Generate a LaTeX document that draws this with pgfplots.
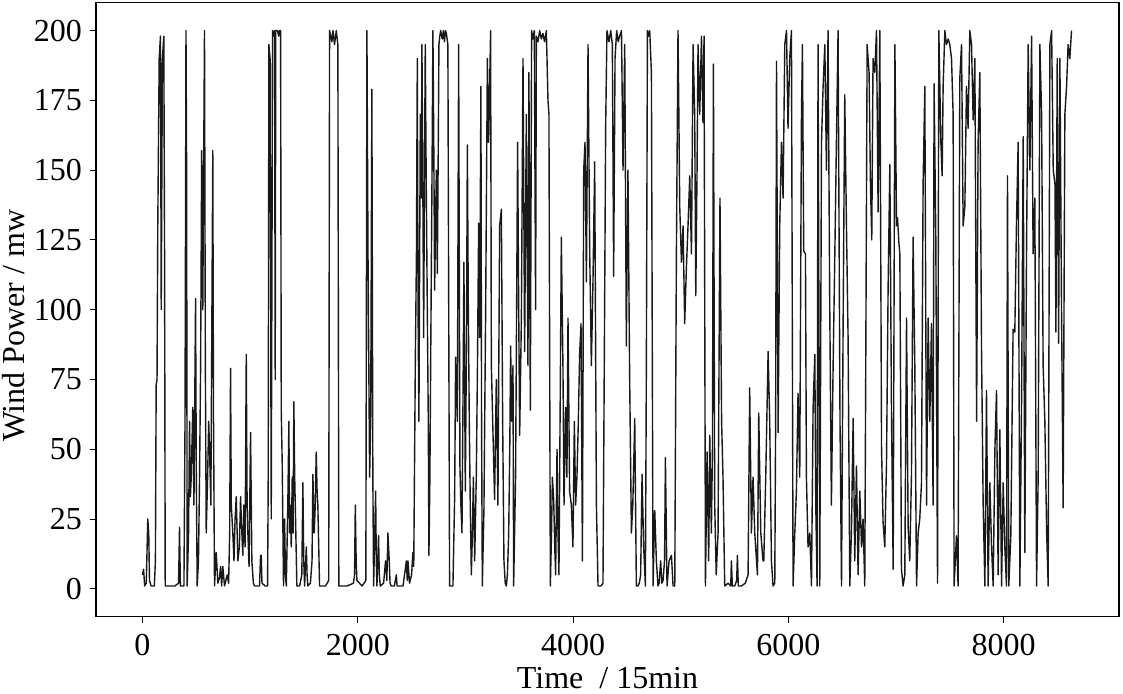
\documentclass[border=0pt]{standalone}
\usepackage{fontspec}
\setmainfont{Liberation Serif}
\usepackage{pgfplots}
\pgfplotsset{compat=1.18}

\begin{document}
\fontsize{16pt}{19pt}\selectfont
\begin{tikzpicture}
\path[use as bounding box] (-48pt,-38.65pt) rectangle (513.5pt,308.35pt);
\begin{axis}[
    at={(0,0)}, anchor=south west,
    scale only axis,
    width=511.5pt, height=307pt,
    xmin=-432, xmax=9072,
    ymin=-10, ymax=210,
    xtick={0,2000,4000,6000,8000},
    ytick={0,25,...,200},
    tick align=outside,
    tick pos=left,
    major tick length=3pt,
    every tick/.style={black, line width=0.5pt},
    axis line style={line width=0.8pt},
    tick label style={font=\fontsize{16pt}{19pt}\selectfont},
    yticklabel style={xshift=1.5pt},
    /pgf/number format/assume math mode=true,
    /pgf/number format/set thousands separator={},
    xlabel={Time\ \ / 15min},
    ylabel={Wind Power / mw},
    label style={font=\fontsize{16pt}{19pt}\selectfont},
    xlabel style={at={(axis description cs:0.5,0)}, anchor=center, yshift=-30.5pt},
    ylabel style={at={(axis description cs:0,0.5)}, anchor=center, yshift=41pt, xshift=-8pt},
]
\addplot[black!90, line width=0.7pt, line join=round] coordinates {
(0,5) (10,7) (20,1) (35,2) (49,25) (58,20) (65,3) (80,1) (110,1) (120,10)
(127,73) (135,75) (142,130) (155,190) (167,198) (174,100) (185,190) (198,198) (205,120) (211,1)
(250,1) (300,1) (335,2) (344,22) (352,1) (385,1) (395,60) (404,200) (410,150) (415,1)
(428,20) (437,60) (445,33) (453,40) (467,65) (478,30) (493,104) (500,40) (508,1) (520,10)
(530,40) (540,80) (550,157) (560,100) (568,150) (576,200) (584,80) (592,20) (605,40) (615,60)
(623,50) (635,30) (645,100) (653,157) (660,60) (669,1) (685,13) (700,2) (715,4) (725,8)
(735,1) (746,8) (762,1) (787,5) (800,2) (810,20) (818,79) (825,30) (839,20) (850,10)
(860,25) (871,33) (886,10) (900,15) (911,33) (923,20) (932,12) (942,30) (953,15) (964,84)
(972,30) (979,20) (990,8) (1004,56) (1016,10) (1030,2) (1041,1) (1087,1) (1097,12)
(1103,12) (1110,2) (1140,1) (1162,1) (1168,40) (1174,195) (1185,190) (1196,25) (1203,120) (1208,200)
(1220,198) (1227,200) (1233,75) (1238,200) (1255,200) (1265,198) (1273,200) (1283,200) (1289,64) (1298,45)
(1310,1) (1320,25) (1328,5) (1336,1) (1350,30) (1360,60) (1366,20) (1373,30) (1382,15) (1391,40)
(1399,20) (1406,67) (1414,40) (1422,25) (1434,1) (1460,1) (1480,5) (1490,38) (1498,10) (1506,1)
(1522,15) (1529,5) (1536,1) (1560,2) (1575,10) (1583,41) (1595,20) (1605,30) (1614,49) (1622,35)
(1629,30) (1645,1) (1700,1) (1730,3) (1738,200) (1750,198) (1760,196) (1770,200) (1784,195) (1800,200)
(1815,195) (1824,1) (1900,1) (1960,2) (1970,5) (1977,30) (1985,10) (1992,3) (2040,1) (2075,3)
(2085,200) (2095,120) (2110,40) (2120,60) (2131,179) (2140,40) (2147,1) (2158,20) (2166,35) (2172,10)
(2178,1) (2193,19) (2200,5) (2209,1) (2240,2) (2258,10) (2270,3) (2280,20)
(2290,12) (2300,2) (2311,1) (2340,1) (2358,5) (2365,1) (2389,1) (2420,1) (2445,8) (2451,10)
(2460,3) (2466,10) (2481,2) (2500,5) (2512,13) (2520,8) (2535,83) (2545,120) (2553,190) (2560,100)
(2568,60) (2581,170) (2590,140) (2596,195) (2605,140) (2612,90) (2620,150) (2627,195) (2635,150) (2646,100)
(2655,60) (2661,12) (2670,40) (2677,80) (2690,150) (2698,200) (2706,160) (2714,107) (2722,130) (2730,150)
(2739,113) (2748,160) (2754,195) (2762,198) (2770,200) (2785,197) (2795,200) (2805,196) (2815,200) (2823,199)
(2837,195) (2853,1) (2870,1) (2884,1) (2900,33) (2909,83) (2917,70) (2925,60) (2937,195) (2949,44)
(2958,30) (2968,20) (2978,70) (2986,117) (2999,35) (3010,90) (3018,159) (3027,100) (3036,60) (3045,30)
(3055,5) (3065,20) (3074,40) (3086,10) (3101,40) (3112,80) (3123,131) (3132,90) (3144,180) (3150,60)
(3157,1) (3172,28) (3188,100) (3204,190) (3216,160) (3234,200) (3241,80) (3256,56) (3271,32) (3287,75)
(3302,30) (3310,80) (3318,130) (3334,136) (3346,60) (3358,10) (3370,2) (3380,1) (3390,5) (3402,20)
(3412,50) (3420,87) (3430,60) (3442,80)
(3448,1) (3466,40) (3485,160) (3495,100) (3504,55) (3520,97) (3535,190) (3550,85) (3566,170) (3581,80)
(3590,185) (3603,64) (3615,200) (3627,197) (3640,200) (3652,100) (3659,198) (3674,196) (3690,200) (3705,197)
(3720,199) (3735,196) (3752,200) (3767,175) (3776,170) (3789,1) (3800,20) (3808,40) (3820,32) (3830,15)
(3838,5) (3851,50) (3860,20) (3869,5) (3882,75) (3891,126) (3906,80) (3916,30) (3931,65) (3943,40)
(3953,97) (3968,35) (3984,30) (3999,15) (4012,60) (4024,30) (4036,40) (4049,60) (4061,84) (4074,95)
(4087,10) (4099,150) (4111,160) (4124,110) (4139,195) (4155,120) (4170,80) (4185,110) (4201,153) (4217,30)
(4232,1) (4260,1) (4278,2) (4290,80) (4303,166) (4315,200) (4334,196) (4350,200) (4365,195) (4377,112)
(4390,190) (4405,200) (4420,196) (4433,198) (4450,200) (4464,150) (4480,195) (4495,87) (4510,150) (4526,75)
(4542,20) (4555,30) (4573,61) (4588,1)
(4603,1) (4615,2) (4628,5) (4641,41) (4656,15) (4672,1) (4681,80) (4691,200) (4700,198) (4712,200)
(4728,185) (4743,1) (4759,28) (4774,10) (4789,1) (4800,2) (4814,10) (4825,2) (4836,3) (4850,10)
(4858,47) (4873,1) (4892,10) (4914,12) (4929,1) (4945,1) (4960,120) (4975,200) (4983,170) (4991,137)
(5007,117) (5022,130) (5037,95) (5053,115) (5068,130) (5084,148) (5100,120) (5115,195) (5130,170) (5140,105)
(5152,150) (5161,195) (5177,170) (5193,198) (5207,167) (5217,198) (5230,1) (5245,49) (5260,10) (5270,55)
(5285,20) (5295,50) (5304,188) (5316,30) (5330,5) (5347,20) (5365,140) (5380,60) (5393,40) (5409,1)
(5440,2) (5465,1) (5471,10) (5480,1) (5502,1) (5520,3) (5527,12) (5535,1) (5564,1) (5600,2)
(5626,5) (5641,72) (5657,20) (5672,40) (5688,20) (5713,5) (5725,63) (5744,20) (5765,10)
(5772,10) (5790,40) (5812,85) (5827,60) (5843,10) (5858,1) (5874,2) (5882,60) (5890,189) (5905,56)
(5920,130) (5936,160) (5951,140) (5967,195) (5983,200) (5997,165) (6013,190) (6029,200) (6044,1) (6060,20)
(6075,35) (6090,70) (6106,40) (6122,170) (6131,195) (6143,121) (6159,120) (6168,40) (6183,15) (6199,20)
(6215,1) (6230,65) (6246,84) (6255,30) (6267,1) (6276,195) (6292,1) (6308,160) (6323,180) (6339,195)
(6354,150) (6369,200) (6385,100) (6400,30) (6416,80) (6432,120) (6447,161) (6462,200) (6480,60) (6494,1)
(6509,95) (6524,177) (6540,130) (6555,90) (6571,1) (6586,20) (6602,61) (6617,10) (6633,44) (6648,5)
(6664,35) (6680,15) (6694,25) (6710,1) (6720,87) (6732,195) (6750,185) (6763,145) (6775,125) (6787,190)
(6803,185) (6819,200) (6834,135) (6850,200) (6866,50) (6880,24) (6896,15) (6912,45) (6927,108)
(6943,152) (6959,60) (6974,7) (6990,195) (7005,130) (7014,133) (7027,124) (7036,120) (7051,7) (7066,1)
(7082,5) (7098,97) (7113,22) (7128,10) (7144,41) (7159,126) (7175,80) (7191,1) (7206,20) (7221,25)
(7237,38) (7252,145) (7268,180) (7284,30) (7299,97) (7314,60) (7330,95) (7345,30) (7354,181) (7370,126)
(7386,2) (7398,200) (7417,160) (7429,148) (7438,180) (7454,200) (7469,195) (7485,197) (7500,195) (7516,190)
(7531,170) (7540,1) (7562,19) (7577,1) (7593,183) (7609,195) (7624,130) (7640,137) (7655,180) (7670,165)
(7686,200) (7702,195) (7717,168) (7733,190) (7749,60) (7763,160) (7779,185) (7795,85) (7810,30) (7826,1)
(7841,71) (7856,1) (7872,38) (7888,15) (7903,1) (7919,50) (7934,71) (7949,5) (7965,57) (7981,1)
(7996,38) (8011,15) (8027,1) (8036,148) (8048,1) (8067,19) (8088,93)
(8104,92) (8120,132) (8135,160) (8151,1) (8167,68) (8182,162) (8197,13) (8213,121) (8228,195) (8244,150)
(8260,198) (8274,120) (8290,140) (8306,1) (8321,40) (8337,195) (8353,170) (8367,80) (8383,60) (8400,20)
(8414,1) (8430,195) (8446,200) (8461,150) (8477,145) (8486,92) (8498,190) (8511,88) (8523,190) (8538,100)
(8553,29) (8569,170) (8585,180) (8599,195) (8615,190) (8631,200)
};
\end{axis}
\end{tikzpicture}
\end{document}
